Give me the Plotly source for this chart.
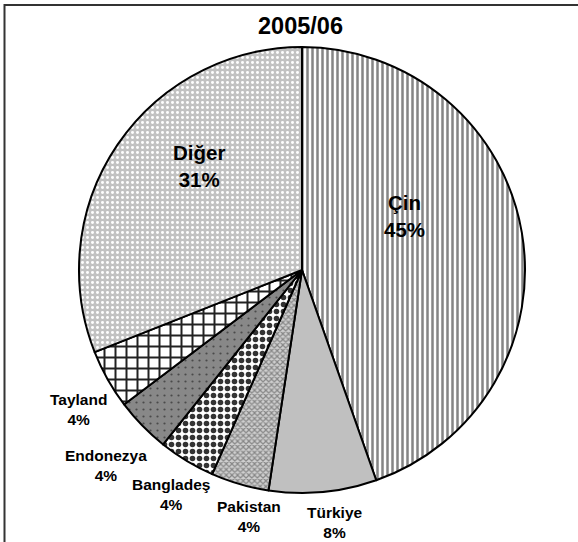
import math
import plotly.graph_objects as go

title_text = "2005/06"
countries = ["Çin", "Türkiye", "Pakistan", "Bangladeş", "Endonezya", "Tayland", "Diğer"]
shares = [44.6, 7.8, 4.2, 4.1, 4.0, 4.3, 31.0]
percent_labels = ["45%", "8%", "4%", "4%", "4%", "4%", "31%"]

# styling (not data)
pattern_shapes = ["|", "", "x", ".", ".", "+", "."]
pattern_fg = ["#858585", "#c0c0c0", "#868686", "#333333", "#4a4a4a", "#222222", "#ffffff"]
pattern_bg = ["#ffffff", "#c0c0c0", "#cfcfcf", "#ffffff", "#888888", "#ffffff", "#c2c2c2"]
pattern_size = [5, 8, 4, 7, 7, 11, 5]
pattern_solidity = [0.5, 0.5, 0.5, 0.5, 0.08, 0.33, 0.28]
label_font_size = [20.5, 15.5, 15.5, 15.5, 15.5, 15.5, 20.5]
label_angle_shift = [-18.3, -2.0, -4.0, -1.0, -0.6, -2.6, 11.0]
label_radius = [115.6, 254.6, 251.9, 260.0, 276.5, 262.8, 146.4]

W, H = 578, 542
cx, cy, r = 302, 270, 223

fig = go.Figure(go.Pie(
    labels=countries,
    values=shares,
    sort=False,
    direction="clockwise",
    rotation=0,
    textinfo="none",
    marker=dict(
        colors=pattern_bg,
        line=dict(color="black", width=2),
        pattern=dict(
            shape=pattern_shapes,
            fgcolor=pattern_fg,
            bgcolor=pattern_bg,
            size=pattern_size,
            solidity=pattern_solidity,
            fillmode="replace",
        ),
    ),
    domain=dict(x=[(cx - r) / W, (cx + r) / W], y=[(H - cy - r) / H, (H - cy + r) / H]),
    automargin=False,
    showlegend=False,
    hoverinfo="label+percent",
))

annotations = [dict(
    text="<b>" + title_text + "</b>", x=300 / W, y=1 - 26 / H,
    xref="paper", yref="paper", showarrow=False,
    font=dict(size=23.5, color="black"), xanchor="center", yanchor="middle",
)]

total = sum(shares)
cum = 0.0
for i, (name, val) in enumerate(zip(countries, shares)):
    mid = (cum + val / 2) / total * 360.0
    cum += val
    ang = math.radians(mid + label_angle_shift[i])
    px = cx + label_radius[i] * math.sin(ang)
    py = cy - label_radius[i] * math.cos(ang)
    annotations.append(dict(
        text="<b>" + name + "<br>" + percent_labels[i] + "</b>",
        x=px / W, y=1 - py / H, xref="paper", yref="paper",
        showarrow=False, xanchor="center", yanchor="middle",
        align="center",
        font=dict(size=label_font_size[i], color="black"),
    ))

fig.update_layout(
    width=W, height=H,
    margin=dict(l=0, r=0, t=0, b=0),
    paper_bgcolor="white",
    plot_bgcolor="white",
    font=dict(family="Liberation Sans, Arial, sans-serif", color="black"),
    annotations=annotations,
    shapes=[dict(
        type="rect", xref="paper", yref="paper",
        x0=4.5 / W, x1=1.2, y0=-0.2, y1=1 - 5 / H,
        line=dict(color="#333333", width=2), fillcolor="rgba(0,0,0,0)",
    )],
)

fig.write_html("out.html", config={"displayModeBar": False},
               post_script="document.body.style.margin='0';")
